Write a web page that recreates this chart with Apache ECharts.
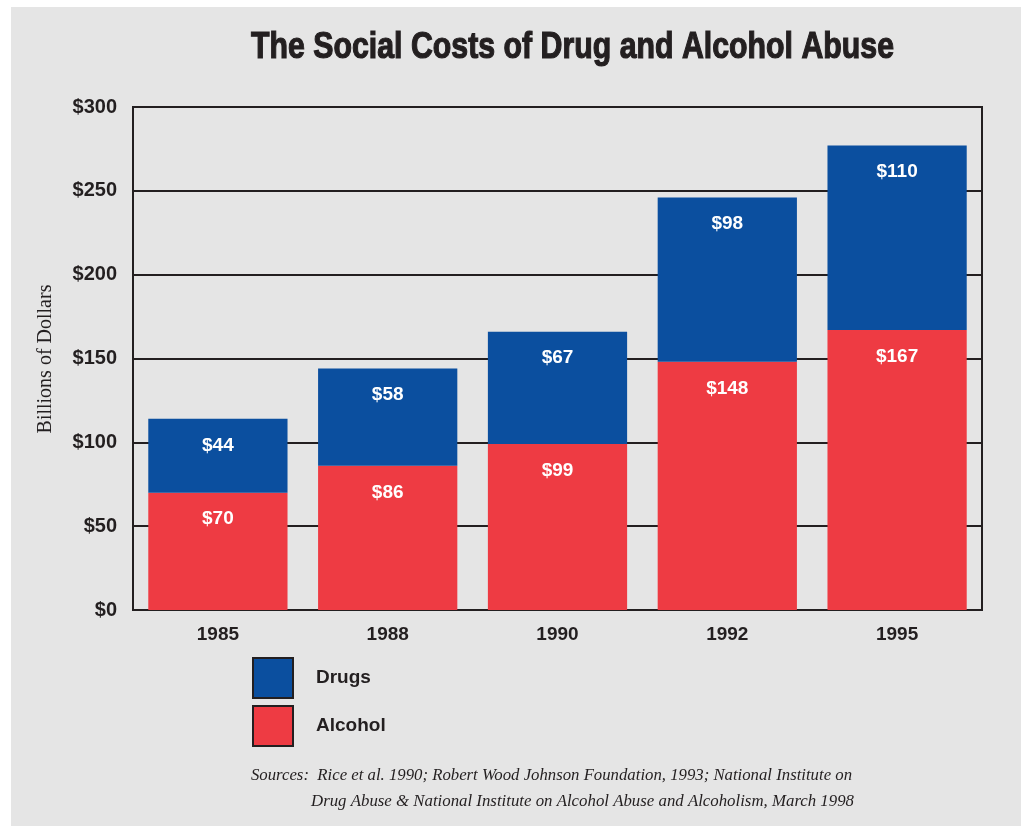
<!DOCTYPE html>
<html>
<head>
<meta charset="utf-8">
<script src="https://cdn.jsdelivr.net/npm/echarts@6/dist/echarts.min.js"></script>
<style>
  html, body { margin: 0; padding: 0; background: #ffffff; }
  #chart { position: absolute; left: 11px; top: 7px; width: 1010px; height: 819px; }
</style>
</head>
<body>
<div id="chart"></div>
<script>
const categories = ['1985', '1988', '1990', '1992', '1995'];
const alcohol = [70, 86, 99, 148, 167];
const drugs = [44, 58, 67, 98, 110];
const yMin = 0, yMax = 300, yInterval = 50;
const titleText = 'The Social Costs of Drug and Alcohol Abuse';
const yName = 'Billions of Dollars';
const sourceLine1 = 'Sources:  Rice et al. 1990; Robert Wood Johnson Foundation, 1993; National Institute on';
const sourceLine2 = 'Drug Abuse & National Institute on Alcohol Abuse and Alcoholism, March 1998';

const INK = '#231f20';
const BLUE = '#0b4f9f';
const RED = '#ee3b43';
const SANS = '"Liberation Sans", Arial, Helvetica, sans-serif';

function fitScale(text, font, target) {
  const ctx = document.createElement('canvas').getContext('2d');
  ctx.font = font;
  return target / ctx.measureText(text).width;
}

const titleFont = 'bold 37px "Liberation Sans"';
const srcFont = 'italic 16px "Liberation Serif"';
const titleScale = fitScale(titleText, titleFont, 643);
const src1Scale = fitScale(sourceLine1, srcFont, 601);
const src2Scale = fitScale(sourceLine2, srcFont, 543);

const chart = echarts.init(document.getElementById('chart'));
const money = v => '$' + v;

chart.setOption({
  backgroundColor: '#e5e5e5',
  animation: false,
  grid: {
    left: 122, top: 100, right: 39, bottom: 216,
    show: true, borderColor: INK, borderWidth: 2, backgroundColor: 'transparent'
  },
  legend: {
    data: ['Drugs', 'Alcohol'],
    orient: 'vertical',
    left: 241, top: 650,
    padding: 0,
    itemWidth: 40, itemHeight: 40, itemGap: 6,
    icon: 'rect',
    itemStyle: { borderColor: INK, borderWidth: 2 },
    textStyle: { fontSize: 19, fontWeight: 'bold', color: INK, fontFamily: SANS, padding: [4, 0, 0, 18] }
  },
  xAxis: {
    type: 'category',
    data: categories,
    axisLine: { show: true, lineStyle: { color: INK, width: 2 } },
    axisTick: { show: false },
    axisLabel: { margin: 15, fontSize: 19, fontWeight: 'bold', color: INK, fontFamily: SANS }
  },
  yAxis: {
    type: 'value',
    min: yMin, max: yMax, interval: yInterval,
    axisLine: { show: true, lineStyle: { color: INK, width: 2 } },
    axisTick: { show: false },
    splitLine: { show: true, lineStyle: { color: INK, width: 2 } },
    axisLabel: { margin: 16, fontSize: 20, fontWeight: 'bold', color: INK, fontFamily: SANS, formatter: money }
  },
  series: [
    {
      name: 'Alcohol', type: 'bar', stack: 'total', data: alcohol,
      barWidth: '82%',
      itemStyle: { color: RED },
      label: { show: true, position: 'insideTop', distance: 17, color: '#ffffff', fontSize: 19, fontWeight: 'bold', fontFamily: SANS, formatter: p => money(p.value) }
    },
    {
      name: 'Drugs', type: 'bar', stack: 'total', data: drugs,
      barWidth: '82%',
      itemStyle: { color: BLUE },
      label: { show: true, position: 'insideTop', distance: 17, color: '#ffffff', fontSize: 19, fontWeight: 'bold', fontFamily: SANS, formatter: p => money(p.value) }
    }
  ],
  graphic: [
    {
      type: 'text', x: 240, y: 41, scaleX: titleScale,
      style: { text: titleText, font: titleFont, fill: INK, stroke: INK, lineWidth: 1.2, align: 'left', verticalAlign: 'middle' }
    },
    {
      type: 'text', x: 34.5, y: 352, rotation: Math.PI / 2,
      style: { text: yName, font: '20px "Liberation Serif"', fill: INK, align: 'center', verticalAlign: 'middle' }
    },
    {
      type: 'text', x: 240, y: 769, scaleX: src1Scale,
      style: { text: sourceLine1, font: srcFont, fill: INK, align: 'left', verticalAlign: 'middle' }
    },
    {
      type: 'text', x: 300, y: 795, scaleX: src2Scale,
      style: { text: sourceLine2, font: srcFont, fill: INK, align: 'left', verticalAlign: 'middle' }
    }
  ]
});
</script>
</body>
</html>
